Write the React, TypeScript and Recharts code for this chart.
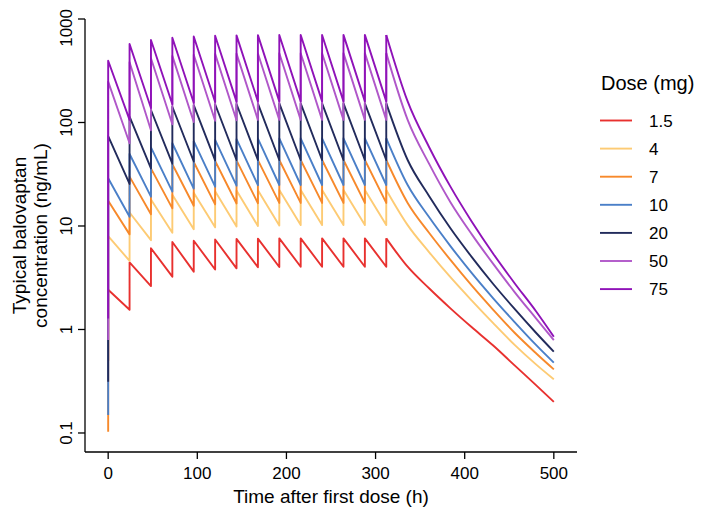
import React from "react";
import { LineChart, Line, XAxis, YAxis } from "recharts";

const FONT = "'Liberation Sans', Arial, Helvetica, sans-serif";

const doseTimes = [0, 24, 48, 72, 96, 120, 144, 168, 192, 216, 240, 264, 288, 312];
const tailTimes = [336, 360, 384, 408, 432, 456, 480, 500];
const xTicks = [0, 100, 200, 300, 400, 500];
const yTicks = [0.1, 1, 10, 100, 1000];

const doseLabels = ["1.5", "4", "7", "10", "20", "50", "75"];
const doseColors = ["#E8312F", "#FDCB74", "#F7892B", "#4A7FC8", "#222B5C", "#B057C9", "#8F12B8"];

// first plotted value at t = 0 (before the first peak)
const startValues = [0.5, 0.5, 0.103, 0.149, 0.313, 0.79, 1.28];

// peak right after each dose (t = 0, 24, ..., 312)
const peaks_1_5 = [2.42, 4.45, 6.1, 7.0, 7.2, 7.4, 7.5, 7.55, 7.6, 7.6, 7.6, 7.6, 7.6, 7.6];
const peaks_4 = [8.0, 13.5, 18, 20, 21, 21.7, 22, 22.2, 22.3, 22.3, 22.3, 22.3, 22.3, 22.3];
const peaks_7 = [17.5, 30, 36, 39.5, 41.5, 42.5, 43, 43.3, 43.4, 43.4, 43.4, 43.4, 43.4, 43.4];
const peaks_10 = [28.9, 49.6, 57.5, 63, 66, 68, 69, 70, 70.2, 70.4, 70.4, 70.4, 70.4, 70.4];
const peaks_20 = [74, 114, 132, 142, 147, 150, 151, 152, 153, 153, 153, 153, 153, 153];
const peaks_50 = [248, 382, 418, 440, 452, 460, 463, 465, 466, 467, 467, 468, 468, 468];
const peaks_75 = [395, 573, 627, 660, 678, 690, 695, 698, 700, 700, 701, 702, 702, 702];

// trough just before each dose (t = 24, ..., 312)
const troughs_1_5 = [1.55, 2.63, 3.24, 3.62, 3.8, 3.9, 4.0, 4.02, 4.04, 4.04, 4.04, 4.04, 4.04];
const troughs_4 = [4.6, 7.3, 8.6, 9.3, 9.7, 9.9, 10.0, 10.1, 10.2, 10.2, 10.2, 10.2, 10.2];
const troughs_7 = [8.3, 13, 14.8, 15.7, 16.2, 16.5, 16.6, 16.7, 16.7, 16.7, 16.7, 16.7, 16.7];
const troughs_10 = [12.3, 19.2, 21.5, 23, 24, 24.5, 24.8, 24.9, 24.9, 24.9, 24.9, 24.9, 24.9];
const troughs_20 = [25.5, 36, 40, 42, 43, 43.4, 43.4, 43.4, 43.4, 43.4, 43.4, 43.4, 43.4];
const troughs_50 = [63, 84, 96, 101, 104, 105, 106, 106, 106, 106, 106, 106, 106];
const troughs_75 = [106, 138, 150, 155, 158, 159, 160, 160, 160, 160, 160, 160, 160];

// washout after the last dose (t = 336 ... 500)
const tail_1_5 = [4.04, 2.5, 1.6, 1.05, 0.7, 0.45, 0.29, 0.2];
const tail_4 = [10.2, 5.6, 3.2, 1.9, 1.15, 0.71, 0.46, 0.33];
const tail_7 = [16.7, 8.6, 4.7, 2.65, 1.55, 0.93, 0.59, 0.412];
const tail_10 = [24.9, 12.2, 6.4, 3.5, 2.0, 1.18, 0.71, 0.478];
const tail_20 = [43.4, 19.5, 9.5, 5.0, 2.75, 1.58, 0.93, 0.61];
const tail_50 = [106, 40, 17, 8.3, 4.3, 2.3, 1.28, 0.79];
const tail_75 = [160, 58, 24, 11, 5.4, 2.8, 1.5, 0.85];

const allPeaks = [peaks_1_5, peaks_4, peaks_7, peaks_10, peaks_20, peaks_50, peaks_75];
const allTroughs = [troughs_1_5, troughs_4, troughs_7, troughs_10, troughs_20, troughs_50, troughs_75];
const allTails = [tail_1_5, tail_4, tail_7, tail_10, tail_20, tail_50, tail_75];

type Pt = { t: number; v: number };

function buildDosing(i: number): Pt[] {
  const pts: Pt[] = [{ t: 0, v: startValues[i] }];
  doseTimes.forEach((t, k) => {
    if (k > 0) pts.push({ t, v: allTroughs[i][k - 1] });
    pts.push({ t, v: allPeaks[i][k] });
  });
  return pts;
}

function buildTail(i: number): Pt[] {
  const last = doseTimes.length - 1;
  const pts: Pt[] = [{ t: doseTimes[last], v: allPeaks[i][last] }];
  tailTimes.forEach((t, k) => pts.push({ t, v: allTails[i][k] }));
  return pts;
}

const dosingData = doseLabels.map((_, i) => buildDosing(i));
const tailData = doseLabels.map((_, i) => buildTail(i));

const TICK_FS = 17;

const YTick = (props: any) => {
  const { x, y, payload } = props;
  const label = String(payload.value);
  // keep the long top label inside the drawing area
  const half = label.length * 0.556 * TICK_FS * 0.5;
  const cy = Math.max(y, half + 1);
  return (
    <text
      x={x}
      y={cy}
      transform={`rotate(-90, ${x}, ${cy})`}
      textAnchor="middle"
      fontSize={TICK_FS}
      fontFamily={FONT}
      fill="#000"
    >
      {label}
    </text>
  );
};

// geometry in the chart's own coordinates (chart sits at page 8,8)
const W = 689;
const H = 500;
const PL = 77;
const PR = 569;
const PT = 11;
const PB = 444;
const LW = 1.9;
const YAW = 50;
const XAH = 40;

export default function App() {
  return (
    <div style={{ position: "relative", width: W, height: H }}>
      <LineChart
        width={W}
        height={H}
        margin={{ top: PT, right: W - PR, bottom: H - PB - XAH, left: PL - YAW }}
      >
        <XAxis
          dataKey="t"
          type="number"
          domain={[-26, 526]}
          ticks={xTicks}
          allowDataOverflow
          height={XAH}
          tickSize={7}
          tickMargin={8}
          axisLine={{ stroke: "#000", strokeWidth: 1.3 }}
          tickLine={{ stroke: "#000", strokeWidth: 1.3 }}
          tick={{ fill: "#000", fontSize: TICK_FS, fontFamily: FONT }}
          interval={0}
        />
        <YAxis
          dataKey="v"
          type="number"
          scale="log"
          domain={[0.0655, 1000]}
          ticks={yTicks}
          allowDataOverflow
          width={YAW}
          tickSize={7}
          tickMargin={6}
          axisLine={{ stroke: "#000", strokeWidth: 1.3 }}
          tickLine={{ stroke: "#000", strokeWidth: 1.3 }}
          tick={<YTick />}
          interval={0}
        />
        {doseLabels.flatMap((lab, i) => [
          <Line
            key={"d" + lab}
            name={lab}
            data={dosingData[i]}
            dataKey="v"
            type="linear"
            stroke={doseColors[i]}
            strokeWidth={LW}
            strokeLinejoin="round"
            dot={false}
            activeDot={false}
            isAnimationActive={false}
          />,
          <Line
            key={"t" + lab}
            name={lab + " washout"}
            data={tailData[i]}
            dataKey="v"
            type="monotone"
            stroke={doseColors[i]}
            strokeWidth={LW}
            dot={false}
            activeDot={false}
            isAnimationActive={false}
          />,
        ])}
      </LineChart>
      <svg
        width={W}
        height={H}
        style={{ position: "absolute", left: 0, top: 0, pointerEvents: "none" }}
      >
        <text
          x={(PL + PR) / 2}
          y={495}
          textAnchor="middle"
          fontSize={19}
          fontFamily={FONT}
          fill="#000"
        >
          Time after first dose (h)
        </text>
        <text
          x={18}
          y={(PT + PB) / 2}
          transform={`rotate(-90, 18, ${(PT + PB) / 2})`}
          textAnchor="middle"
          fontSize={19}
          fontFamily={FONT}
          fill="#000"
        >
          Typical balovaptan
        </text>
        <text
          x={39}
          y={(PT + PB) / 2}
          transform={`rotate(-90, 39, ${(PT + PB) / 2})`}
          textAnchor="middle"
          fontSize={19}
          fontFamily={FONT}
          fill="#000"
        >
          concentration (ng/mL)
        </text>
        <text x={593} y={82} fontSize={20} fontFamily={FONT} fill="#000">
          Dose (mg)
        </text>
        {doseLabels.map((lab, i) => {
          const y = 112.5 + 28.1 * i;
          return (
            <g key={lab}>
              <line x1={592} x2={624} y1={y} y2={y} stroke={doseColors[i]} strokeWidth={LW} />
              <text x={641} y={y + 6} fontSize={17} fontFamily={FONT} fill="#000">
                {lab}
              </text>
            </g>
          );
        })}
      </svg>
    </div>
  );
}
